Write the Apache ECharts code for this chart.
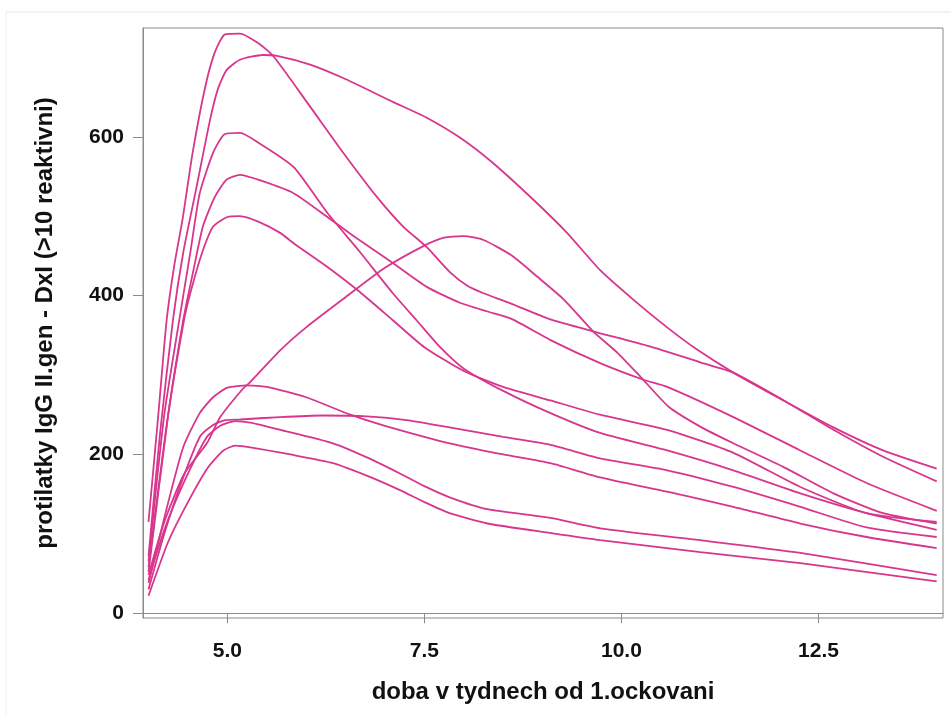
<!DOCTYPE html>
<html>
<head>
<meta charset="utf-8">
<script src="https://cdn.jsdelivr.net/npm/echarts@6/dist/echarts.min.js"></script>
<style>
html,body{margin:0;padding:0;background:#fff;}
#chart{width:951px;height:715px;}
</style>
</head>
<body>
<div id="chart"></div>
<script>
// ---- data (x = weeks, y = antibody level) ----
const xTicks = [5.0, 7.5, 10.0, 12.5];
const yTicks = [0, 200, 400, 600];
const xTitle = 'doba v tydnech od 1.ockovani';
const yTitle = 'protilatky IgG II.gen - DxI (>10 reaktivni)';

const curveA = [[4.0,115],[4.12,245],[4.23,369],[4.33,440],[4.43,495],[4.56,580],[4.72,663],[4.84,706],[4.97,729],[5.16,730],[5.39,718],[5.58,702],[6.05,638],[6.47,580],[6.9,524],[7.23,487],[7.53,461],[7.82,430],[8.05,412],[8.25,403],[8.6,390],[9.1,370],[9.64,355],[10.36,336],[11.0,316],[11.42,303],[12.06,268],[12.69,231],[13.32,197],[14.0,166]];
const curveB = [[4.0,72],[4.15,230],[4.31,369],[4.44,454],[4.61,537],[4.78,621],[4.88,660],[4.99,684],[5.16,697],[5.45,703],[5.63,702],[6.05,691],[6.47,674],[7.1,644],[7.53,624],[7.95,599],[8.37,567],[8.88,521],[9.31,479],[9.73,432],[10.15,395],[10.58,360],[10.96,332],[11.42,303],[11.98,272],[12.69,234],[13.32,205],[14.0,182]];
const curveC = [[4.0,65],[4.2,250],[4.39,369],[4.53,454],[4.65,529],[4.82,580],[4.96,603],[5.16,605],[5.42,591],[5.84,562],[6.27,504],[6.69,454],[7.1,403],[7.4,369],[7.7,335],[8.0,308],[8.5,280],[9.1,252],[9.73,227],[10.58,205],[11.42,180],[12.27,151],[13.11,126],[14.0,105]];
const curveD = [[4.0,58],[4.22,230],[4.44,369],[4.57,432],[4.69,487],[4.84,524],[4.99,546],[5.16,552],[5.42,545],[5.84,529],[6.27,499],[6.6,475],[7.1,441],[7.53,411],[7.95,391],[8.3,380],[8.6,371],[9.1,344],[9.73,315],[10.28,294],[10.58,285],[11.42,247],[12.27,205],[13.11,164],[14.0,129]];
const curveE = [[4.0,52],[4.25,250],[4.45,369],[4.53,403],[4.68,454],[4.82,487],[5.0,499],[5.16,500],[5.42,492],[5.67,479],[5.84,466],[6.27,436],[6.65,407],[7.1,369],[7.5,335],[8.0,305],[8.5,285],[9.1,268],[9.73,250],[10.58,231],[11.42,202],[12.27,159],[13.11,126],[14.0,115]];
const curveF = [[4.0,48],[4.2,115],[4.45,175],[4.74,214],[4.91,247],[5.2,283],[5.29,291],[5.67,331],[6.0,360],[6.5,398],[7.0,435],[7.5,463],[7.75,473],[8.0,475],[8.25,470],[8.6,451],[8.93,424],[9.27,395],[9.64,355],[9.95,328],[10.24,298],[10.6,260],[11.0,235],[11.42,214],[12.06,184],[12.69,151],[13.32,126],[14.0,113]];
const curveG = [[4.0,38],[4.2,120],[4.44,209],[4.65,252],[4.82,272],[5.0,284],[5.25,287],[5.5,285],[6.0,272],[6.56,250],[7.0,236],[7.82,214],[8.5,200],[9.1,189],[9.73,171],[10.58,153],[11.42,134],[12.27,113],[13.11,96],[14.0,82]];
const curveH = [[4.0,30],[4.2,100],[4.4,160],[4.65,222],[4.82,237],[4.96,243],[5.16,244],[5.67,247],[6.2,249],[6.77,248],[7.3,243],[7.82,234],[8.5,222],[9.1,212],[9.73,195],[10.58,180],[11.42,159],[12.27,134],[13.11,108],[14.0,96]];
const curveI = [[4.0,42],[4.2,105],[4.45,165],[4.74,222],[4.91,236],[5.1,242],[5.29,240],[5.67,231],[6.34,214],[6.8,195],[7.19,176],[7.5,160],[7.82,146],[8.3,131],[9.1,120],[9.73,107],[11.0,92],[12.27,76],[14.0,48]];
const curveJ = [[4.0,22],[4.25,90],[4.5,140],[4.75,183],[4.95,205],[5.1,211],[5.29,209],[5.8,200],[6.34,189],[6.8,172],[7.19,155],[7.5,140],[7.82,126],[8.3,113],[9.1,101],[9.73,92],[11.0,77],[12.27,63],[14.0,40]];

const curves = [curveA, curveB, curveC, curveD, curveE, curveF, curveG, curveH, curveI, curveJ];

// ---- chart ----
const FONT = "'Liberation Sans Narrow','Arial Narrow','Liberation Sans',Arial,sans-serif";
const lineColor = '#d8368c';
const axisGray = '#8a8a8a';

const chart = echarts.init(document.getElementById('chart'), null, {renderer: 'canvas'});
chart.setOption({
  animation: false,
  backgroundColor: '#ffffff',
  grid: {left: 143, right: 8, top: 28, bottom: 97, show: true, borderColor: axisGray, borderWidth: 1},
  xAxis: {
    type: 'value', min: 3.93, max: 14.08,
    name: xTitle, nameLocation: 'middle', nameGap: 62,
    nameTextStyle: {fontFamily: FONT, fontWeight: 'bold', fontSize: 24, color: '#111'},
    axisLine: {show: true, lineStyle: {color: axisGray}},
    axisTick: {show: true, length: 10, lineStyle: {color: axisGray}, customValues: xTicks},
    axisLabel: {customValues: xTicks, margin: 23, fontFamily: FONT, fontWeight: 'bold', fontSize: 21, color: '#111',
      formatter: v => Number(v).toFixed(1)},
    splitLine: {show: false}
  },
  yAxis: {
    type: 'value', min: -6, max: 737,
    name: yTitle, nameLocation: 'middle', nameGap: 86, nameRotate: 90,
    nameTextStyle: {fontFamily: FONT, fontWeight: 'bold', fontSize: 24, color: '#111'},
    axisLine: {show: true, lineStyle: {color: axisGray}},
    axisTick: {show: true, length: 10, lineStyle: {color: axisGray}, customValues: yTicks},
    axisLabel: {customValues: yTicks, margin: 19, fontFamily: FONT, fontWeight: 'bold', fontSize: 21, color: '#111'},
    splitLine: {show: false}
  },
  graphic: [
    {type: 'line', shape: {x1: 6, y1: 12, x2: 951, y2: 12}, style: {stroke: '#e6e6e6', lineWidth: 1}, silent: true},
    {type: 'line', shape: {x1: 6, y1: 12, x2: 6, y2: 715}, style: {stroke: '#ececec', lineWidth: 1}, silent: true}
  ],
  series: curves.map(c => ({
    type: 'line', data: c, showSymbol: false, symbol: 'none',
    smooth: 0.2,
    lineStyle: {color: lineColor, width: 1.8},
    emphasis: {disabled: true}
  }))
});
</script>
</body>
</html>
